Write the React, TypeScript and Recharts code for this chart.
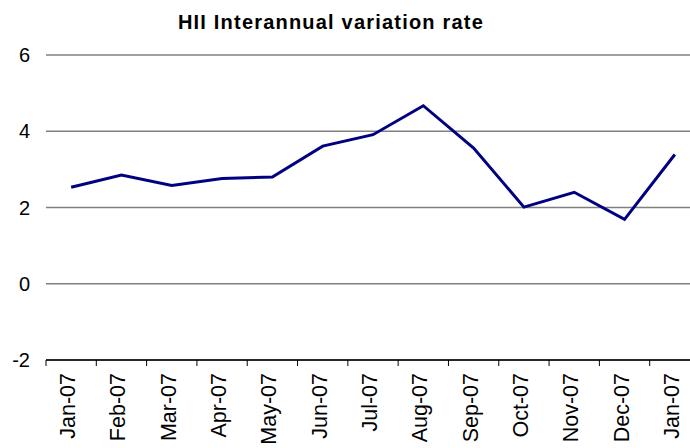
import { CartesianGrid, Line, LineChart, XAxis, YAxis } from "recharts";

const months = [
  "Jan-07", "Feb-07", "Mar-07", "Apr-07", "May-07", "Jun-07", "Jul-07",
  "Aug-07", "Sep-07", "Oct-07", "Nov-07", "Dec-07", "Jan-07",
];
const rates = [2.53, 2.85, 2.58, 2.76, 2.8, 3.61, 3.91, 4.67, 3.56, 2.01, 2.4, 1.69, 3.39];
const yTicks = [-2, 0, 2, 4, 6];

const data = months.map((m, i) => ({ key: `${m}-${i}`, month: m, rate: rates[i] }));

const W = 702;
const H = 448;
const LEFT = 46;
const RIGHT = 2;
const BAND = (W - LEFT - RIGHT) / months.length;
const FONT = '"Liberation Sans", Arial, sans-serif';

function MonthTick(props: any) {
  const { x, y, index } = props;
  const last = index === months.length - 1;
  return (
    <g>
      <line x1={x - BAND / 2} x2={x - BAND / 2} y1={y} y2={y + 6} stroke="#000" />
      {last && <line x1={x + BAND / 2} x2={x + BAND / 2} y1={y} y2={y + 6} stroke="#000" />}
      <text
        x={x + 4}
        y={y + 13}
        transform={`rotate(-90, ${x + 4}, ${y + 13})`}
        textAnchor="end"
        fontSize={21.5}
        fontFamily={FONT}
        fill="#000"
      >
        {months[index]}
      </text>
    </g>
  );
}

export default function App() {
  return (
    <div
      style={{
        position: "absolute",
        left: 0,
        top: 0,
        width: 690,
        height: 448,
        overflow: "hidden",
        background: "#fff",
      }}
    >
      <div
        style={{
          position: "absolute",
          top: 11,
          left: 131,
          width: 400,
          textAlign: "center",
          fontFamily: FONT,
          fontWeight: "bold",
          fontSize: 20,
          letterSpacing: 1.2,
          color: "#000",
        }}
      >
        HII Interannual variation rate
      </div>
      <LineChart
        width={W}
        height={H}
        data={data}
        margin={{ top: 55, right: RIGHT, bottom: 0, left: 0 }}
      >
        <CartesianGrid vertical={false} stroke="#808080" strokeWidth={1.3} />
        <XAxis
          dataKey="key"
          scale="band"
          height={88}
          interval={0}
          tickLine={false}
          tickSize={0}
          tickMargin={0}
          axisLine={{ stroke: "#000", strokeWidth: 1.3 }}
          tick={<MonthTick />}
        />
        <YAxis
          domain={[-2, 6]}
          ticks={yTicks}
          width={LEFT}
          axisLine={false}
          tickLine={false}
          tickSize={0}
          tickMargin={16}
          tick={{ fontSize: 20, fill: "#000", fontFamily: FONT }}
        />
        <Line
          dataKey="rate"
          stroke="#000080"
          strokeWidth={3}
          dot={false}
          isAnimationActive={false}
        />
      </LineChart>
    </div>
  );
}
